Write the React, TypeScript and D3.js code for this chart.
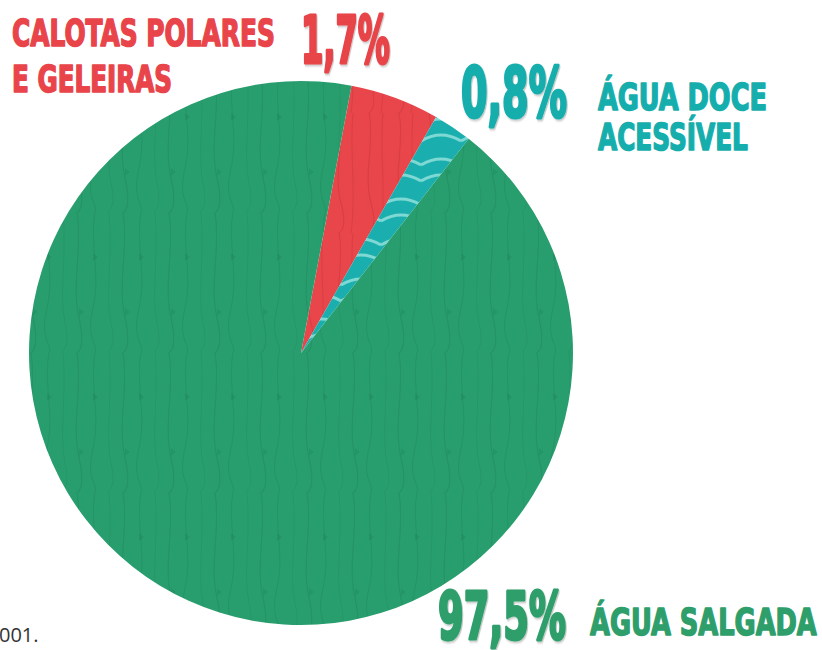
import React, { useLayoutEffect, useRef, useState } from "react";
import * as d3 from "d3";

// Slice order clockwise from the top, starting at the red wedge
const categories = ["Calotas polares e geleiras", "Água doce acessível", "Água salgada"];
// Visual share of each wedge as drawn in the picture (percent of the circle)
const sliceShares = [5.3, 2.3, 92.4];
const valueLabels = ["1,7%", "0,8%", "97,5%"];
const nameLines = [["CALOTAS POLARES", "E GELEIRAS"], ["ÁGUA DOCE", "ACESSÍVEL"], ["ÁGUA SALGADA"]];

const W = 822;
const H = 650;
const cx = 301;
const cy = 353;
const R = 272;
const startDeg = 10.7;

const sliceColors = ["#E8464A", "#1AAFAE", "#289E6E"];
const textColors = ["#E8444A", "#15AEAD", "#2E9E6B"];

const display = "'Liberation Sans Narrow', 'DejaVu Sans Condensed', 'Roboto', sans-serif";

type FitProps = {
  txt: string;
  x: number;
  y: number;
  width: number;
  color: string;
  size: number;
  stroke: number;
  shadow?: boolean;
};

function FitText({ txt, x, y, width, color, size, stroke, shadow }: FitProps) {
  const ref = useRef<SVGTextElement>(null);
  const [sx, setSx] = useState(1);
  useLayoutEffect(() => {
    if (ref.current) {
      const w = ref.current.getBBox().width;
      if (w > 0) setSx(width / w);
    }
  }, [txt, width, size]);
  return (
    <g transform={`translate(${x},${y}) scale(${sx},1)`}>
      <text ref={ref} x={0} y={0} fill={color} fontFamily={display} fontWeight={700} fontSize={size}
        stroke={color} strokeWidth={stroke} strokeLinejoin="round"
        filter={shadow ? "url(#shadow)" : undefined}>{txt}</text>
    </g>
  );
}

export default function App() {
  const pie = d3
    .pie<number>()
    .sort(null)
    .value((d) => d)
    .startAngle((startDeg * Math.PI) / 180)
    .endAngle((startDeg * Math.PI) / 180 + 2 * Math.PI);
  const arcs = pie(sliceShares);
  const arc = d3.arc<d3.PieArcDatum<number>>().innerRadius(0).outerRadius(R);
  const fills = ["url(#texRed)", "url(#texTeal)", "url(#texGreen)"];

  const bigLabel = (txt: string, x: number, y: number, len: number, color: string, size = 70) => (
    <FitText txt={txt} x={x} y={y} width={len} color={color} size={size} stroke={3} shadow />
  );
  const nameLabel = (txt: string, x: number, y: number, len: number, color: string) => (
    <FitText txt={txt} x={x} y={y} width={len} color={color} size={37} stroke={1.5} />
  );

  return (
    <svg width={W} height={H} viewBox={`0 0 ${W} ${H}`} style={{ position: "absolute", left: 0, top: 0 }}>
      <defs>
        <filter id="shadow" x="-10%" y="-10%" width="130%" height="130%">
          <feDropShadow dx="1.5" dy="1.5" stdDeviation="0.8" floodColor="#000" floodOpacity="0.25" />
        </filter>
        <pattern id="texGreen" patternUnits="userSpaceOnUse" width="46" height="140">
          <rect width="46" height="140" fill={sliceColors[2]} />
          <path d="M6 0 C 12 35, 0 70, 8 105 S 4 140, 6 140" stroke="#1E865A" strokeOpacity="0.45" strokeWidth="1.3" fill="none" />
          <path d="M24 0 C 18 30, 30 60, 22 95 S 28 130, 24 140" stroke="#1E865A" strokeOpacity="0.4" strokeWidth="1.3" fill="none" />
          <path d="M38 0 C 42 40, 34 80, 40 110 S 36 135, 38 140" stroke="#1E865A" strokeOpacity="0.35" strokeWidth="1.1" fill="none" />
          <path d="M22 40 l5 4 l-5 4 z" fill="#1E865A" fillOpacity="0.45" />
          <path d="M8 95 l5 4 l-5 4 z" fill="#1E865A" fillOpacity="0.4" />
        </pattern>
        <pattern id="texRed" patternUnits="userSpaceOnUse" width="30" height="120">
          <rect width="30" height="120" fill={sliceColors[0]} />
          <path d="M8 0 C 14 30, 2 60, 10 90 S 6 120, 8 120" stroke="#C73539" strokeOpacity="0.5" strokeWidth="1.2" fill="none" />
          <path d="M22 0 C 18 40, 26 80, 20 120" stroke="#C73539" strokeOpacity="0.4" strokeWidth="1.2" fill="none" />
        </pattern>
        <pattern id="texTeal" patternUnits="userSpaceOnUse" width="40" height="40">
          <rect width="40" height="40" fill={sliceColors[1]} />
          <path d="M0 12 Q 20 0, 40 12" stroke="#7ED8D4" strokeWidth="3" fill="none" />
          <path d="M0 28 Q 20 16, 40 28" stroke="#7ED8D4" strokeWidth="3" fill="none" />
        </pattern>
      </defs>

      <g transform={`translate(${cx},${cy})`}>
        {arcs.map((a, i) => (
          <path key={categories[i]} d={arc(a) || ""} fill={fills[i]} />
        ))}
      </g>

      {/* Calotas polares */}
      {nameLabel(nameLines[0][0], 12, 46, 263, textColors[0])}
      {nameLabel(nameLines[0][1], 12, 92, 160, textColors[0])}
      {bigLabel(valueLabels[0], 301, 63, 89, textColors[0], 66)}

      {/* Água doce */}
      {bigLabel(valueLabels[1], 461, 117, 106, textColors[1])}
      {nameLabel(nameLines[1][0], 598, 110, 169, textColors[1])}
      {nameLabel(nameLines[1][1], 598, 150, 150, textColors[1])}

      {/* Água salgada */}
      {bigLabel(valueLabels[2], 438, 639, 128, textColors[2], 66)}
      {nameLabel(nameLines[2][0], 590, 635, 227, textColors[2])}

      <text x={-1} y={642} fill="#333" fontFamily="'Open Sans', 'Noto Sans', sans-serif" fontSize={20}>001.</text>
    </svg>
  );
}
